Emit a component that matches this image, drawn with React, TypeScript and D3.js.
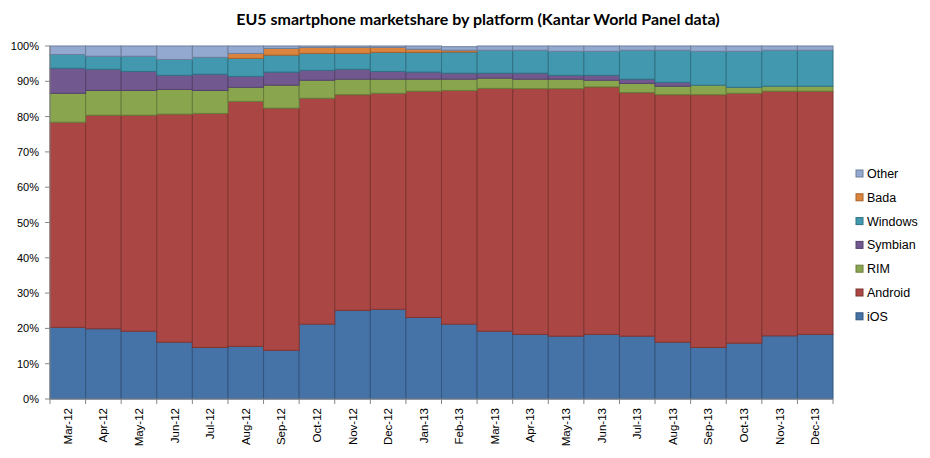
import React from "react";
import * as d3 from "d3";

const months = ["Mar-12","Apr-12","May-12","Jun-12","Jul-12","Aug-12","Sep-12","Oct-12","Nov-12","Dec-12","Jan-13","Feb-13","Mar-13","Apr-13","May-13","Jun-13","Jul-13","Aug-13","Sep-13","Oct-13","Nov-13","Dec-13"];
const iOS = [20.3,19.9,19.2,16.1,14.6,14.9,13.8,21.2,25.1,25.4,23.1,21.2,19.2,18.3,17.8,18.3,17.8,16.1,14.6,15.8,17.9,18.3];
const android = [58.1,60.5,61.2,64.6,66.3,69.4,68.6,64.0,61.1,61.2,64.1,66.2,68.8,69.6,70.1,70.1,69.0,70.1,71.6,70.8,69.3,68.9];
const rim = [8.2,7.0,7.0,7.0,6.5,4.0,6.5,5.1,4.4,4.0,3.4,3.2,2.9,2.7,2.7,1.9,2.6,2.4,2.7,1.7,1.4,1.4];
const symbian = [7.1,6.0,5.4,4.0,4.6,3.1,3.7,2.8,2.8,2.2,2.0,1.7,1.4,1.7,1.1,1.4,1.2,1.1,0,0,0,0];
const windows = [3.9,3.7,4.3,4.5,4.8,5.1,4.8,4.8,4.5,5.4,5.6,6.0,6.5,6.5,6.8,6.8,8.2,9.1,9.6,10.2,10.2,10.2];
const bada = [0,0,0,0,0,1.4,1.9,1.7,1.7,1.4,0.9,0.5,0,0,0,0,0,0,0,0,0,0];
const other = [2.4,2.9,2.9,3.8,3.2,2.1,0.7,0.4,0.4,0.4,0.9,1.0,1.2,1.2,1.5,1.5,1.2,1.2,1.5,1.5,1.2,1.2];
const yTicks = [0,10,20,30,40,50,60,70,80,90,100];

const seriesNames = ["iOS","Android","RIM","Symbian","Windows","Bada","Other"];
const seriesValues = [iOS, android, rim, symbian, windows, bada, other];
const colors = ["#4572A7","#AA4643","#89A54E","#71588F","#4198AF","#DB843D","#93A9CF"];

export default function App() {
  const W = 930, H = 458;
  const left = 50, right = 833, top = 46, bottom = 399;
  const x = d3.scaleBand<string>().domain(months).range([left, right]).padding(0);
  const y = d3.scaleLinear().domain([0, 100]).range([bottom, top]);

  const table = months.map((m, i) => {
    const row: any = { month: m };
    seriesNames.forEach((s, j) => { row[s] = seriesValues[j][i]; });
    return row;
  });
  const stacked = d3.stack<any>().keys(seriesNames)(table);
  const font = "'Liberation Sans', Arial, sans-serif";

  return (
    <svg width={W} height={H} style={{ position: "absolute", left: 0, top: 0, background: "#fff" }}>
      <text x={478} y={25} textAnchor="middle" fontFamily="Lato, 'Open Sans', sans-serif" fontWeight="bold" fontSize={16} fill="#000">
        EU5 smartphone marketshare by platform (Kantar World Panel data)
      </text>
      {stacked.map((layer, j) => {
        const stroke = d3.color(colors[j])!.darker(0.8).toString();
        return (
          <g key={seriesNames[j]}>
            {layer.map((d, i) => {
              const h = y(d[0]) - y(d[1]);
              if (h <= 0.01) return null;
              return (
                <rect key={i} x={x(months[i])!} y={y(d[1])} width={x.bandwidth()} height={h}
                  fill={colors[j]} stroke={stroke} strokeWidth={1} />
              );
            })}
          </g>
        );
      })}
      {/* axes */}
      <line x1={left} x2={left} y1={top} y2={bottom} stroke="#868686" />
      <line x1={left} x2={right} y1={bottom} y2={bottom} stroke="#868686" />
      {yTicks.map(t => (
        <g key={t}>
          <line x1={left - 5} x2={left} y1={y(t)} y2={y(t)} stroke="#868686" />
          <text x={left - 11} y={y(t) + 4} textAnchor="end" fontFamily={font} fontSize={11} fill="#000">{t}%</text>
        </g>
      ))}
      {months.map((m, i) => (
        <line key={"t" + i} x1={x(m)!} x2={x(m)!} y1={bottom} y2={bottom + 5} stroke="#868686" />
      ))}
      <line x1={right} x2={right} y1={bottom} y2={bottom + 5} stroke="#868686" />
      {months.map(m => {
        const cx = x(m)! + x.bandwidth() / 2 + 4;
        return (
          <text key={m} transform={`translate(${cx},${bottom + 9}) rotate(-90)`} textAnchor="end"
            fontFamily={font} fontSize={11.5} fill="#000">{m}</text>
        );
      })}
      {/* legend */}
      {seriesNames.slice().reverse().map((s, k) => {
        const j = seriesNames.length - 1 - k;
        const cy = 173.5 + k * 23.8;
        return (
          <g key={s}>
            <rect x={856} y={cy - 3.5} width={7} height={7} fill={colors[j]} stroke={d3.color(colors[j])!.darker(0.8).toString()} />
            <text x={867} y={cy + 4.5} fontFamily={font} fontSize={12.5} fill="#000">{s}</text>
          </g>
        );
      })}
    </svg>
  );
}
